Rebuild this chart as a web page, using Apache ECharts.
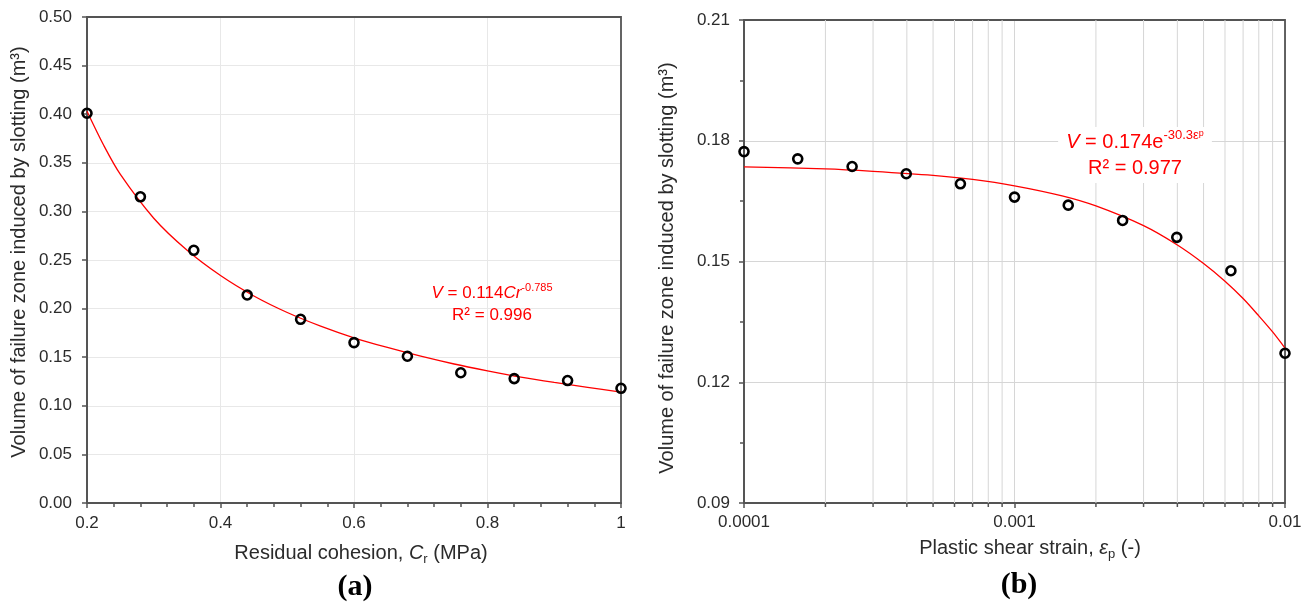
<!DOCTYPE html>
<html>
<head>
<meta charset="utf-8">
<script src="https://cdn.jsdelivr.net/npm/echarts@6/dist/echarts.min.js"></script>
<style>
html,body{margin:0;padding:0;background:#fff;}
#chart{width:1315px;height:604px;}
</style>
</head>
<body>
<div id="chart"></div>
<script>
// ---- Panel (a) data ----
const cohesion = [0.2, 0.28, 0.36, 0.44, 0.52, 0.6, 0.68, 0.76, 0.84, 0.92, 1.0];
const volumeA = [0.401, 0.315, 0.260, 0.214, 0.189, 0.165, 0.151, 0.134, 0.128, 0.126, 0.118];
// trend line
const fitAx = [0.2, 0.225, 0.25, 0.3, 0.35, 0.4, 0.45, 0.5, 0.55, 0.6, 0.65, 0.7, 0.75, 0.8, 0.85, 0.9, 0.95, 1.0];
const fitAy = [0.403, 0.368, 0.338, 0.293, 0.260, 0.234, 0.213, 0.196, 0.182, 0.170, 0.160, 0.151, 0.143, 0.136, 0.1295, 0.124, 0.119, 0.114];

// ---- Panel (b) data ----
const strain = [0.0001, 0.000158, 0.000251, 0.000398, 0.000631, 0.001, 0.00158, 0.00251, 0.00398, 0.00631, 0.01];
const volumeB = [0.1773, 0.1755, 0.1736, 0.1718, 0.1693, 0.1660, 0.1640, 0.1602, 0.1560, 0.1477, 0.1272];
const fitBx = [0.0001, 0.0002, 0.0003, 0.0005, 0.0007, 0.001, 0.0015, 0.002, 0.003, 0.004, 0.005, 0.006, 0.007, 0.008, 0.009, 0.01];
const fitBy = [0.1735, 0.1730, 0.1724, 0.1714, 0.1704, 0.1688, 0.1663, 0.1638, 0.1589, 0.1541, 0.1495, 0.1451, 0.1408, 0.1365, 0.1325, 0.1285];
const logMinorX = [0.0002, 0.0003, 0.0004, 0.0005, 0.0006, 0.0007, 0.0008, 0.0009,
                   0.002, 0.003, 0.004, 0.005, 0.006, 0.007, 0.008, 0.009];

const zip = (a, b) => a.map((v, i) => [v, b[i]]);
const FONT = '"Liberation Sans", Arial, Helvetica, sans-serif';
const SERIF = '"Liberation Serif", "Times New Roman", serif';
const AX = '#545454';
const TXT = '#2b2b2b';
const RED = '#ff0000';

const chart = echarts.init(document.getElementById('chart'), null, {renderer: 'canvas'});

function baseAxis(extra) {
  return Object.assign({
    axisLine: {show: true, onZero: false, lineStyle: {color: AX, width: 1.8}},
    axisTick: {show: true, inside: false, length: 5, lineStyle: {color: AX, width: 1.5}},
    axisLabel: {fontSize: 17, color: TXT, fontFamily: FONT},
    splitLine: {show: true, showMinLine: false, showMaxLine: false, lineStyle: {color: '#e8e8e8', width: 1}},
    minorSplitLine: {show: false}
  }, extra);
}

const option = {
  animation: false,
  backgroundColor: '#fff',
  grid: [
    {left: 87, top: 17, width: 534, height: 486, show: true, borderColor: AX, borderWidth: 1.8,
     backgroundColor: 'transparent', z: 1, containLabel: false, outerBoundsMode: 'none'},
    {left: 744, top: 20, width: 541, height: 483, show: true, borderColor: AX, borderWidth: 1.8,
     backgroundColor: 'transparent', z: 1, containLabel: false, outerBoundsMode: 'none'}
  ],
  xAxis: [
    baseAxis({
      gridIndex: 0, type: 'value', min: 0.2, max: 1, interval: 0.2,
      minorTick: {show: true, splitNumber: 5, length: 4, lineStyle: {color: AX, width: 1.5}},
      axisLabel: {fontSize: 17, color: TXT, fontFamily: FONT, margin: 12,
        formatter: v => String(Math.round(v * 10) / 10)}
    }),
    baseAxis({
      gridIndex: 1, type: 'log', logBase: 10, min: 0.0001, max: 0.01,
      axisLabel: {fontSize: 17, color: TXT, fontFamily: FONT, margin: 11,
        formatter: v => String(Number(Number(v).toPrecision(6)))},
      splitLine: {show: true, showMinLine: false, showMaxLine: false, lineStyle: {color: '#d6d6d6', width: 1}}
    })
  ],
  yAxis: [
    baseAxis({
      gridIndex: 0, type: 'value', min: 0, max: 0.5, interval: 0.05,
      axisLabel: {fontSize: 17, color: TXT, fontFamily: FONT, margin: 15,
        formatter: v => Number(v).toFixed(2)}
    }),
    baseAxis({
      gridIndex: 1, type: 'value', min: 0.09, max: 0.21, interval: 0.03,
      minorTick: {show: true, splitNumber: 2, length: 4, lineStyle: {color: AX, width: 1.5}},
      axisLabel: {fontSize: 17, color: TXT, fontFamily: FONT, margin: 14,
        formatter: v => Number(v).toFixed(2)},
      splitLine: {show: true, showMinLine: false, showMaxLine: false, lineStyle: {color: '#d6d6d6', width: 1}}
    })
  ],
  series: [
    {
      type: 'line', xAxisIndex: 0, yAxisIndex: 0, data: zip(fitAx, fitAy),
      smooth: 0.3, showSymbol: false, symbol: 'none', silent: true, z: 3,
      lineStyle: {color: RED, width: 1.3}
    },
    {
      type: 'scatter', xAxisIndex: 0, yAxisIndex: 0, data: zip(cohesion, volumeA),
      symbol: 'circle', symbolSize: 9, silent: true, z: 5,
      itemStyle: {color: 'transparent', borderColor: '#000', borderWidth: 2.6, opacity: 1}
    },
    {
      type: 'custom', xAxisIndex: 1, yAxisIndex: 1, silent: true, z: 1, clip: false,
      data: logMinorX.map(v => [v, 0.09]),
      renderItem: function (params, api) {
        const x = api.value(0);
        const top = api.coord([x, 0.21]);
        const bot = api.coord([x, 0.09]);
        return {
          type: 'group',
          children: [
            {type: 'line', shape: {x1: top[0], y1: top[1], x2: bot[0], y2: bot[1]},
             style: {stroke: '#d6d6d6', lineWidth: 1}},
            {type: 'line', shape: {x1: bot[0], y1: bot[1], x2: bot[0], y2: bot[1] + 4},
             style: {stroke: AX, lineWidth: 1.5}}
          ]
        };
      }
    },
    {
      type: 'line', xAxisIndex: 1, yAxisIndex: 1, data: zip(fitBx, fitBy),
      smooth: 0.3, showSymbol: false, symbol: 'none', silent: true, z: 3,
      lineStyle: {color: RED, width: 1.3}
    },
    {
      type: 'scatter', xAxisIndex: 1, yAxisIndex: 1, data: zip(strain, volumeB),
      symbol: 'circle', symbolSize: 9, silent: true, z: 5,
      itemStyle: {color: 'transparent', borderColor: '#000', borderWidth: 2.6, opacity: 1}
    }
  ],
  graphic: [
    // y-axis titles
    {type: 'text', x: 19, y: 252, rotation: Math.PI / 2, z: 50,
     style: {text: 'Volume of failure zone induced by slotting (m³)', fontSize: 20, fontFamily: FONT,
             fill: TXT, align: 'center', verticalAlign: 'middle'}},
    {type: 'text', x: 667, y: 268, rotation: Math.PI / 2, z: 50,
     style: {text: 'Volume of failure zone induced by slotting (m³)', fontSize: 20, fontFamily: FONT,
             fill: TXT, align: 'center', verticalAlign: 'middle'}},
    // x-axis titles
    {type: 'text', x: 361, y: 553, z: 50,
     style: {text: '{n|Residual cohesion, }{it|C}{sub|r}{n| (MPa)}', fontSize: 20, fontFamily: FONT, fill: TXT,
             align: 'center', verticalAlign: 'middle',
             rich: {
               n: {fontSize: 20, fontFamily: FONT, color: TXT, lineHeight: 26},
               it: {fontSize: 20, fontFamily: FONT, color: TXT, fontStyle: 'italic', lineHeight: 26},
               sub: {fontSize: 13, fontFamily: FONT, color: TXT, lineHeight: 14, verticalAlign: 'bottom'}
             }}},
    {type: 'text', x: 1030, y: 548, z: 50,
     style: {text: '{n|Plastic shear strain, }{it|ε}{sub|p}{n| (-)}', fontSize: 20, fontFamily: FONT, fill: TXT,
             align: 'center', verticalAlign: 'middle',
             rich: {
               n: {fontSize: 20, fontFamily: FONT, color: TXT, lineHeight: 26},
               it: {fontSize: 20, fontFamily: FONT, color: TXT, fontStyle: 'italic', lineHeight: 26},
               sub: {fontSize: 13, fontFamily: FONT, color: TXT, lineHeight: 14, verticalAlign: 'bottom'}
             }}},
    // panel labels
    {type: 'text', x: 355, y: 587, z: 50,
     style: {text: '(a)', fontSize: 30, fontWeight: 'bold', fontFamily: SERIF, fill: '#000',
             align: 'center', verticalAlign: 'middle'}},
    {type: 'text', x: 1019, y: 585, z: 50,
     style: {text: '(b)', fontSize: 30, fontWeight: 'bold', fontFamily: SERIF, fill: '#000',
             align: 'center', verticalAlign: 'middle'}},
    // equations
    {type: 'text', x: 492, y: 304, z: 50,
     style: {text: '{it|V}{n| = 0.114}{it|Cr}{sup|-0.785}\n{n|R² = 0.996}', fontSize: 17, fontFamily: FONT, fill: RED,
             align: 'center', verticalAlign: 'middle',
             rich: {
               n: {fontSize: 17, fontFamily: FONT, color: RED, lineHeight: 22},
               it: {fontSize: 17, fontFamily: FONT, color: RED, fontStyle: 'italic', lineHeight: 22},
               sup: {fontSize: 11, fontFamily: FONT, color: RED, lineHeight: 15, verticalAlign: 'top'}
             }}},
    {type: 'text', x: 1135, y: 155, z: 50,
     style: {text: '{it|V}{n| = 0.174e}{sup|-30.3ε}{ss|p}\n{n|R² = 0.977}', fontSize: 20, fontFamily: FONT, fill: RED,
             align: 'center', verticalAlign: 'middle', backgroundColor: '#fff', padding: [2, 8, 2, 8],
             rich: {
               n: {fontSize: 20, fontFamily: FONT, color: RED, lineHeight: 26},
               it: {fontSize: 20, fontFamily: FONT, color: RED, fontStyle: 'italic', lineHeight: 26},
               sup: {fontSize: 13, fontFamily: FONT, color: RED, lineHeight: 18, verticalAlign: 'top'},
               ss: {fontSize: 9, fontFamily: FONT, color: RED, lineHeight: 26, verticalAlign: 'top'}
             }}}
  ]
};
chart.setOption(option);
</script>
</body>
</html>
